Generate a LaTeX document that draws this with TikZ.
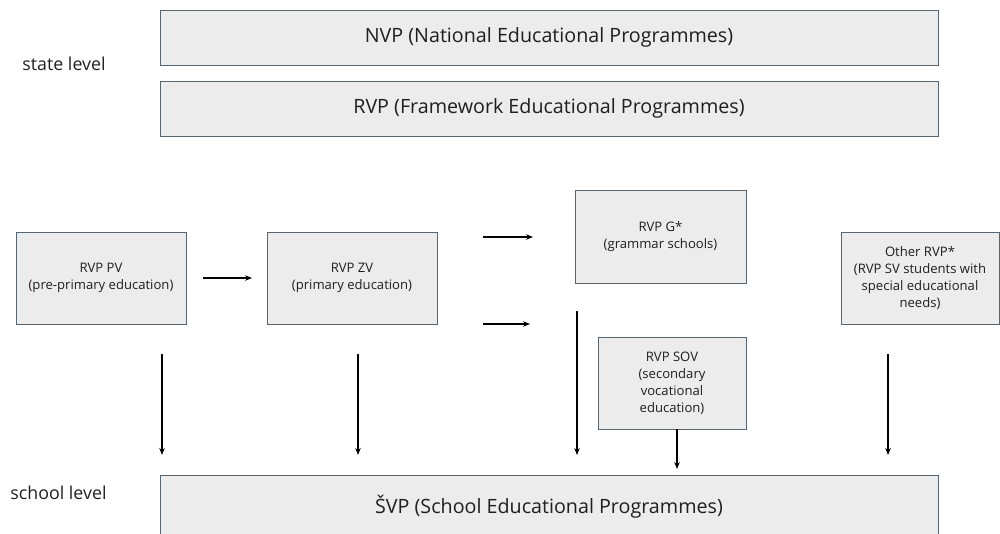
\documentclass[tikz,border=0pt]{standalone}
\usepackage{fontspec}
\setmainfont{Open Sans}
\usetikzlibrary{arrows.meta,positioning}
\definecolor{boxFill}{HTML}{ECECEC}
\definecolor{boxLine}{HTML}{56656F}
\definecolor{txtColor}{HTML}{1F1F1F}

\begin{document}
\begin{tikzpicture}[x=1pt,y=-1pt,>={Stealth[length=7pt,width=5.5pt]},
				lvlbox/.style={draw=boxLine,fill=boxFill,line width=1pt,inner sep=0,outer sep=0,text=txtColor},
				bigbox/.style={lvlbox,minimum width=778pt,minimum height=55pt,font=\fontsize{19.7}{24}\selectfont},
				smallbox/.style={lvlbox,minimum height=92pt,align=center,font=\fontsize{13.1}{17}\selectfont},
				lvltext/.style={text=txtColor,font=\fontsize{17.8}{20}\selectfont},
				flow/.style={->,line width=1.2pt}]
				\useasboundingbox (0,0) rectangle (1000,533);
				
				% state level
				\node[lvltext] (state) at (64, 64) {state level};
				\node[bigbox] (nvp) at (549, 37.5) {NVP (National Educational Programmes)};
				\node[bigbox] (rvp) at (549, 108.5) {RVP (Framework Educational Programmes)};
				
				% framework programmes
				\node[smallbox, minimum width=170pt] (pv) at (101, 278) {RVP PV\\(pre-primary education)};
				\node[smallbox, minimum width=170pt] (zv) at (352, 278) {RVP ZV\\(primary education)};
				\node[smallbox, minimum width=171pt, minimum height=93pt] (g) at (660.5, 236.5) {RVP G*\\(grammar schools)};
				\node[smallbox, minimum width=148pt] (sov) at (672, 383) {RVP SOV\\(secondary\\vocational\\education)};
				\node[smallbox, minimum width=158pt] (other) at (920, 278) {Other RVP*\\(RVP SV students with\\special educational\\needs)};
				
				% school level
				\node[lvltext] (school) at (58.5, 493) {school level};
				\node[bigbox, minimum height=64pt] (svp) at (549, 507) {ŠVP (School Educational Programmes)};
				
				\coordinate (gUp) at (483, 237);   \coordinate (gUpIn) at (533, 237);
				\coordinate (gLow) at (483, 324);  \coordinate (gLowIn) at (530, 324);
				\coordinate (pvOut) at (162, 354); \coordinate (pvIn) at (162, 455);
				\coordinate (zvOut) at (358, 354); \coordinate (zvIn) at (358, 455);
				\coordinate (gOut) at (577, 311);  \coordinate (gIn) at (577, 455);
				\coordinate (sovIn) at (677, 469);
				\coordinate (otherOut) at (888, 354); \coordinate (otherIn) at (888, 455);
				
				\path (pv) edge[flow, shorten <=17pt, shorten >=15pt] (zv);
				\path (gUp) edge[flow] (gUpIn);
				\path (gLow) edge[flow] (gLowIn);
				\path (pvOut) edge[flow] (pvIn);
				\path (zvOut) edge[flow] (zvIn);
				\path (gOut) edge[flow] (gIn);
				\path (sov.south -| sovIn) edge[flow] (sovIn);
				\path (otherOut) edge[flow] (otherIn);
\end{tikzpicture}
\end{document}
